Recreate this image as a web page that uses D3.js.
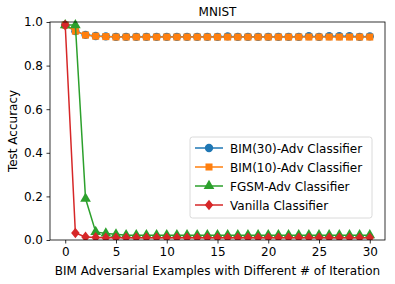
<!DOCTYPE html>
<html>
<head>
<meta charset="utf-8">
<script src="https://d3js.org/d3.v7.min.js"></script>
<style>
  body { margin: 0; background: #fff; }
  text { font-family: "DejaVu Sans", sans-serif; fill: #000; }
</style>
</head>
<body>
<script>
// iterations on x axis
const iterations = d3.range(0, 31);

const bim30 = [0.986, 0.958, 0.941, 0.936, 0.934, 0.932, 0.932, 0.932, 0.932, 0.932,
               0.932, 0.932, 0.932, 0.932, 0.932, 0.932, 0.934, 0.932, 0.932, 0.932,
               0.932, 0.932, 0.932, 0.932, 0.935, 0.932, 0.935, 0.935, 0.935, 0.932, 0.934];
const bim10 = [0.986, 0.958, 0.940, 0.935, 0.933, 0.931, 0.931, 0.931, 0.931, 0.931,
               0.931, 0.931, 0.931, 0.931, 0.931, 0.931, 0.931, 0.931, 0.931, 0.931,
               0.931, 0.931, 0.931, 0.931, 0.931, 0.931, 0.931, 0.931, 0.931, 0.931, 0.931];
const fgsm  = [0.986, 0.986, 0.19, 0.037, 0.030, 0.026, 0.022, 0.022, 0.022, 0.022,
               0.022, 0.022, 0.022, 0.022, 0.022, 0.022, 0.022, 0.022, 0.022, 0.022,
               0.022, 0.022, 0.022, 0.022, 0.022, 0.022, 0.022, 0.022, 0.022, 0.022, 0.022];
const vanilla = [0.986, 0.032, 0.014, 0.012, 0.010, 0.010, 0.010, 0.010, 0.010, 0.010,
               0.010, 0.010, 0.010, 0.010, 0.010, 0.010, 0.010, 0.010, 0.010, 0.010,
               0.010, 0.010, 0.010, 0.010, 0.010, 0.010, 0.010, 0.010, 0.010, 0.010, 0.010];

const seriesNames = ["BIM(30)-Adv Classifier", "BIM(10)-Adv Classifier", "FGSM-Adv Classifier", "Vanilla Classifier"];
const seriesValues = [bim30, bim10, fgsm, vanilla];
const seriesColors = ["#1f77b4", "#ff7f0e", "#2ca02c", "#d62728"];
const seriesMarkers = ["circle", "square", "triangle", "diamond"];
const xTicks = [0, 5, 10, 15, 20, 25, 30];
const yTicks = [0.0, 0.2, 0.4, 0.6, 0.8, 1.0];

let W = 395, H = 284;
let margin = {top: 22, right: 10, bottom: 44, left: 50};
let fs = "12px";

let svg = d3.select("body").append("svg")
  .attr("width", W).attr("height", H);

let x = d3.scaleLinear().domain([-1.5, 31.5]).range([margin.left, W - margin.right]);
let y = d3.scaleLinear().domain([0, 1]).range([H - margin.bottom, margin.top]);

// plot area clip
svg.append("clipPath").attr("id", "clip")
  .append("rect")
  .attr("x", margin.left).attr("y", margin.top - 6)
  .attr("width", W - margin.left - margin.right).attr("height", H - margin.top - margin.bottom + 6);

function marker(type, size) {
  if (type == "circle") return d3.symbol(d3.symbolCircle, size)();
  if (type == "square") return d3.symbol(d3.symbolSquare, size * 0.9)();
  if (type == "triangle") return d3.symbol(d3.symbolTriangle, size * 0.9)();
  // diamond: matplotlib style, taller than wide
  let s = Math.sqrt(size) * 0.72;
  return `M0,${-s}L${s * 0.8},0L0,${s}L${-s * 0.8},0Z`;
}

let line = d3.line().x((d, i) => x(iterations[i])).y(d => y(d));

let plot = svg.append("g").attr("clip-path", "url(#clip)");

seriesValues.forEach(function(vals, k) {
  let g = plot.append("g");
  g.append("path")
    .attr("d", line(vals))
    .attr("fill", "none")
    .attr("stroke", seriesColors[k])
    .attr("stroke-width", 1.5);
  g.selectAll("path.m").data(vals).enter().append("path")
    .attr("class", "m")
    .attr("transform", (d, i) => "translate(" + x(iterations[i]) + "," + y(d) + ")")
    .attr("d", marker(seriesMarkers[k], 55))
    .attr("fill", seriesColors[k]);
});

// frame
svg.append("rect")
  .attr("x", margin.left).attr("y", margin.top)
  .attr("width", W - margin.left - margin.right).attr("height", H - margin.top - margin.bottom)
  .attr("fill", "none").attr("stroke", "#000").attr("stroke-width", 0.8);

let xAxis = svg.append("g")
  .attr("transform", "translate(0," + (H - margin.bottom) + ")")
  .call(d3.axisBottom(x).tickValues(xTicks).tickSize(3.5).tickPadding(3.5).tickFormat(d3.format("d")));
let yAxis = svg.append("g")
  .attr("transform", "translate(" + margin.left + ",0)")
  .call(d3.axisLeft(y).tickValues(yTicks).tickSize(3.5).tickPadding(3.5).tickFormat(d3.format(".1f")));
[xAxis, yAxis].forEach(a => {
  a.select(".domain").remove();
  a.selectAll("text").style("font-size", fs).style("font-family", "DejaVu Sans");
  a.selectAll("line").attr("stroke-width", 0.8);
});

svg.append("text")
  .attr("x", (margin.left + W - margin.right) / 2).attr("y", 16)
  .attr("text-anchor", "middle").style("font-size", fs)
  .text("MNIST");

svg.append("text")
  .attr("x", (margin.left + W - margin.right) / 2).attr("y", 275)
  .attr("text-anchor", "middle").style("font-size", fs)
  .text("BIM Adversarial Examples with Different # of Iteration");

svg.append("text")
  .attr("transform", "translate(17," + ((margin.top + H - margin.bottom) / 2) + ") rotate(-90)")
  .attr("text-anchor", "middle").style("font-size", fs)
  .text("Test Accuracy");

// legend
let lg = svg.append("g").attr("transform", "translate(190,137)");
lg.append("rect")
  .attr("width", 182).attr("height", 81).attr("rx", 2.5)
  .attr("fill", "#fff").attr("fill-opacity", 0.8)
  .attr("stroke", "#d0d0d0").attr("stroke-width", 0.8);
seriesNames.forEach(function(name, k) {
  let yy = 11 + k * 19;
  lg.append("line").attr("x1", 5).attr("x2", 33).attr("y1", yy).attr("y2", yy)
    .attr("stroke", seriesColors[k]).attr("stroke-width", 1.5);
  lg.append("path").attr("transform", "translate(19," + yy + ")")
    .attr("d", marker(seriesMarkers[k], 55)).attr("fill", seriesColors[k]);
  lg.append("text").attr("x", 40).attr("y", yy + 4.5)
    .style("font-size", fs).text(name);
});
</script>
</body>
</html>
